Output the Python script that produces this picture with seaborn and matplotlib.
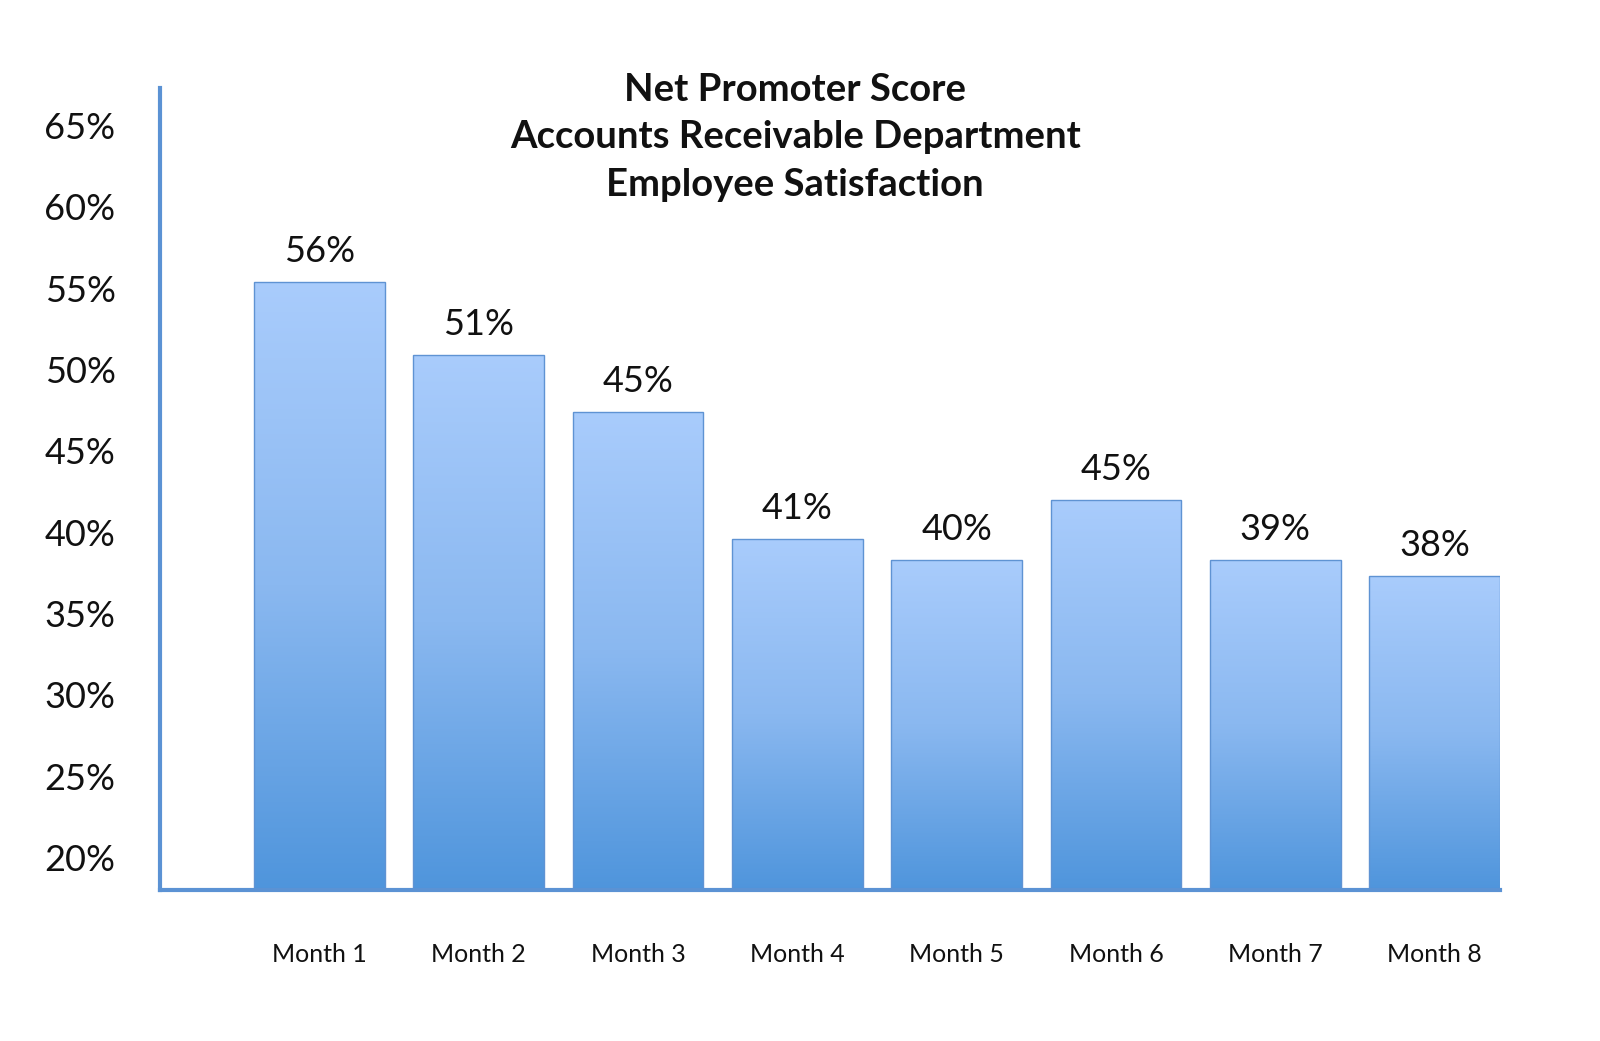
import numpy as np
import pandas as pd
import matplotlib
matplotlib.use("Agg")
import matplotlib.pyplot as plt
from matplotlib.colors import LinearSegmentedColormap
import seaborn as sns

# values (bar tops) and the printed data labels
months = ["Month 1", "Month 2", "Month 3", "Month 4",
          "Month 5", "Month 6", "Month 7", "Month 8"]
bar_heights = [55.4, 50.9, 47.4, 39.6, 38.3, 42.0, 38.3, 37.3]
bar_labels = ["56%", "51%", "45%", "41%", "40%", "45%", "39%", "38%"]
y_ticks = [20, 25, 30, 35, 40, 45, 50, 55, 60, 65]

title = "Net Promoter Score\nAccounts Receivable Department\nEmployee Satisfaction"

df = pd.DataFrame({"month": months, "score": bar_heights})

sns.set_style("white")
plt.rcParams["font.family"] = ["Lato", "DejaVu Sans"]

fig = plt.figure(figsize=(16, 10.41), dpi=100)
ax = fig.add_axes([0.1, 0.145, 0.8375, 0.7705])

sns.barplot(data=df, x="month", y="score", width=0.82, color="#8ab8f0",
            edgecolor="#5f93d3", linewidth=1.0, ax=ax)

ax.set_ylim(18, 67.3)
ax.set_xlim(-1, 7.41)

# vertical gradient inside each bar: light on top, darker at the base
grad = LinearSegmentedColormap.from_list("bar", ["#4f95dc", "#8ab8f0", "#a9ccfc"])
ramp = np.linspace(0, 1, 256).reshape(-1, 1)
for p in ax.patches:
    x0, y0 = p.get_x(), p.get_y()
    w, h = p.get_width(), p.get_height()
    im = ax.imshow(ramp, cmap=grad, origin="lower", aspect="auto",
                   extent=[x0, x0 + w, 18, y0 + h], zorder=p.get_zorder() - 0.1)
    im.set_clip_path(p)
    p.set_facecolor("none")

for i, (h, lab) in enumerate(zip(bar_heights, bar_labels)):
    ax.annotate(lab, (i, h), xytext=(0, 22), textcoords="offset points",
                ha="center", va="center", fontsize=26, color="#111111")

ax.set_yticks(y_ticks)
ax.set_yticklabels([f"{v}%" for v in y_ticks])
ax.tick_params(axis="y", length=0, pad=32, labelsize=26, labelcolor="#111111")
ax.tick_params(axis="x", length=0, pad=38, labelsize=18, labelcolor="#111111")
ax.set_xlabel("")
ax.set_ylabel("")

for s in ["top", "right"]:
    ax.spines[s].set_visible(False)
for s in ["left", "bottom"]:
    ax.spines[s].set_color("#5b92d4")
    ax.spines[s].set_linewidth(3)

fig.text(0.497, 0.868, title, ha="center", va="center", fontsize=27.5,
         fontweight="bold", linespacing=1.48, color="#111111")

fig.savefig("out.png", dpi=100)
